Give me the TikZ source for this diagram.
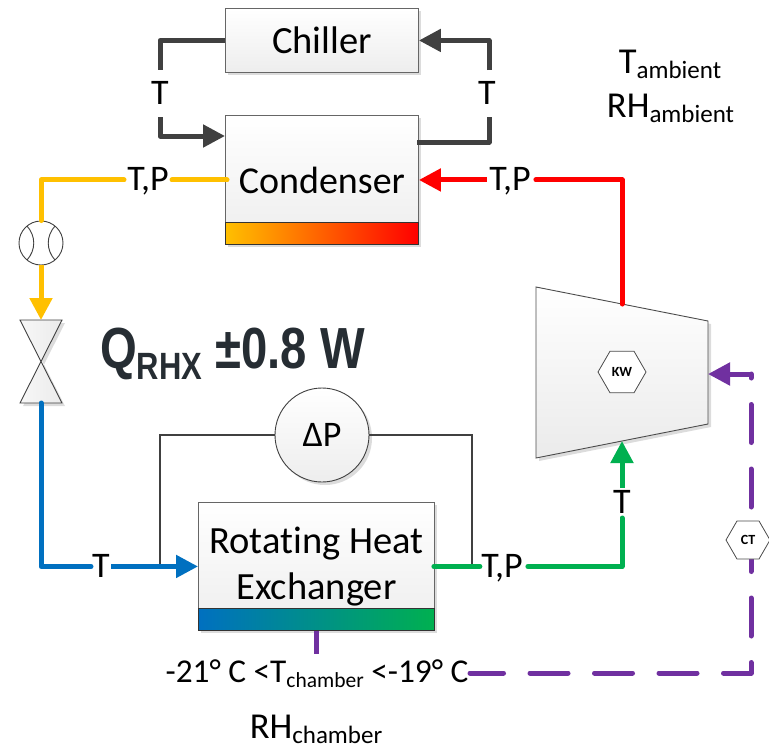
\documentclass[tikz,border=0pt]{standalone}
\usepackage{fontspec}
\setmainfont[Ligatures=NoCommon]{Carlito}
\newfontfamily\qfont[Ligatures=NoCommon]{Liberation Sans}
\usetikzlibrary{arrows.meta,shapes.geometric,shadows,calc}
\definecolor{cgray}{HTML}{404040}
\definecolor{cyellow}{HTML}{FFC000}
\definecolor{cred}{HTML}{FF0000}
\definecolor{cblue}{HTML}{0070C0}
\definecolor{cgreen}{HTML}{00B050}
\definecolor{cpurple}{HTML}{7030A0}
\definecolor{qdark}{HTML}{262D33}
\newcommand{\subt}[2]{\raisebox{-5pt}{\fontsize{#1}{#1}\selectfont #2}}
\tikzset{
  x=1pt,y=-1pt,
  softshadow/.style={drop shadow={shadow xshift=3pt,shadow yshift=-3pt,fill=black!30,opacity=0.45}},
  unitbox/.style={draw=black!60,line width=0.9pt,top color=white,bottom color=black!7,softshadow,anchor=north west,align=center,inner sep=0pt,font=\fontsize{38.5}{46}\selectfont},
  flow/.style={line width=5pt,line join=round,line cap=round},
  flowarrow/.style={flow,-{Triangle[length=22pt,width=22pt]}},
  meas/.style={font=\fontsize{36}{40}\selectfont,inner sep=0pt,anchor=base},
  note/.style={font=\fontsize{36.5}{38}\selectfont,inner sep=0pt,anchor=base},
  pipe/.style={draw=black!75,line width=1.6pt},
  hexa/.style={regular polygon,regular polygon sides=6,draw=black!70,line width=0.8pt,fill=white,inner sep=0pt,font=\fontsize{14}{14}\selectfont\bfseries},
  purpledash/.style={line width=5pt,draw=cpurple,line cap=round,line join=round,dash pattern=on 38pt off 26.5pt,dash phase=4.5pt}
}
\begin{document}
\begin{tikzpicture}
\useasboundingbox (0,0) rectangle (769,748);
% boxes
\node[unitbox,minimum width=193pt,minimum height=64pt] (chiller) at (225,8) {Chiller};
\node[unitbox,minimum width=193pt,minimum height=129pt,font=\fontsize{38}{46}\selectfont] (condenser) at (225,115) {Condenser};
\node[anchor=north west,minimum width=193pt,minimum height=22pt,inner sep=0pt,draw=black!80,line width=0.8pt,left color=cyellow,right color=cred] (condbar) at (225,222) {};
\node[unitbox,minimum width=236pt,minimum height=128pt] (rhx) at (198,502) {Rotating Heat\\Exchanger};
\node[anchor=north west,minimum width=236pt,minimum height=22pt,inner sep=0pt,draw=black!80,line width=0.8pt,left color=cblue,right color=cgreen] (rhxbar) at (198,608) {};
% compressor
\coordinate (c1) at (536,287);
\coordinate (c2) at (708,321);
\coordinate (c3) at (708,424);
\coordinate (c4) at (536,458);
\coordinate (ctop) at (622,304);
\coordinate (cbot) at (622,441);
\coordinate (cright) at (708,374);
\path[draw=black!70,line width=0.9pt,top color=white,bottom color=black!8,softshadow] (c1) -- (c2) -- (c3) -- (c4) -- cycle;
\node[hexa,minimum size=48pt] (kw) at (622,372) {KW};
% flow meter
\node[circle,draw=black!75,line width=0.9pt,fill=white,minimum size=44pt,inner sep=0pt] (meter) at (41,243) {};
\draw[draw=black!75,line width=0.9pt] (27,226) .. controls (36,236) and (36,250) .. (27,260);
\draw[draw=black!75,line width=0.9pt] (55,226) .. controls (46,236) and (46,250) .. (55,260);
% valve
\coordinate (vtop) at (41,320);
\coordinate (vbot) at (41,403);
\path[draw=black!75,line width=0.9pt,left color=black!3,right color=black!8,softshadow] (20,320) -- (62,320) -- (20,403) -- (62,403) -- cycle;
% labels
\node[meas] (tl) at (160,104) {T};
\node[meas] (tr) at (487,104) {T};
\node[meas] (tpy) at (148,190) {T,P};
\node[meas] (tpr) at (510,190) {T,P};
\node[meas] (tb) at (101,577) {T};
\node[meas] (tpg) at (502,577) {T,P};
\node[meas] (tg) at (622,513) {T};
\node[note] (tamb) at (670,73) {T\subt{25}{ambient}};
\node[note] (rhamb) at (670.5,117) {RH\subt{25}{ambient}};
\node[note,font=\fontsize{33.3}{38}\selectfont] (tch) at (317,682) {-21° C <T\subt{21.5}{chamber} <-19° C};
\node[note] (rhch) at (316,738) {RH\subt{25}{chamber}};
\node[inner sep=0pt,anchor=base,text=qdark] (q) at (232.5,368) {\scalebox{0.815}[1]{\qfont\bfseries\fontsize{58}{58}\selectfont Q\raisebox{-0.2em}{\fontsize{38}{38}\selectfont RHX} ±0.8 W}};
% pressure
\node[circle,draw=black!75,line width=0.9pt,top color=white,bottom color=black!7,softshadow,minimum size=94pt,inner sep=0pt,font=\fontsize{36}{40}\selectfont] (dp) at (322,435) {ΔP};
\coordinate (dpl) at (160,565);
\coordinate (dpr) at (472,565);
\draw[pipe] (dp.west) -| (dpl);
\draw[pipe] (dp.east) -| (dpr);
% chiller loop
\coordinate (cin) at (225,136);
\coordinate (cout) at (417,142);
\coordinate (tlc) at (160,70);
\coordinate (trc) at (489,70);
\coordinate (tld) at (160,117);
\coordinate (trd) at (489,117);
\draw[flow,cgray,line cap=butt] (chiller.west) -| (tlc);
\draw[flowarrow,cgray,line cap=butt] (tld) |- (cin);
\draw[flow,cgray,line cap=butt] (cout) -| (trd);
\draw[flowarrow,cgray,line cap=butt] (trc) |- (chiller.east);
% refrigerant
\coordinate (ya) at ($(condenser.west)+(2,0)$);
\coordinate (yb) at ($(condenser.west)+(-53,0)$);
\coordinate (yc) at ($(condenser.west)+(-101,0)$);
\draw[flow,cyellow] (ya) -- (yb);
\draw[flow,cyellow] (yc) -| (meter.north);
\draw[flowarrow,cyellow,line cap=butt] (meter.south) -- (vtop);
\coordinate (ra) at ($(condenser.east)+(117,0)$);
\coordinate (rb) at ($(condenser.east)+(68,0)$);
\draw[flow,cred] (ctop) |- (ra);
\draw[flowarrow,cred,line cap=butt] (rb) -- (condenser.east);
\coordinate (ba) at ($(rhx.west)+(-107,0)$);
\coordinate (bb) at ($(rhx.west)+(-87,0)$);
\draw[flow,cblue] (vbot) |- (ba);
\draw[flowarrow,cblue,line cap=butt] (bb) -- (rhx.west);
\coordinate (ga) at ($(rhx.east)+(-1,0)$);
\coordinate (gb) at ($(rhx.east)+(45,0)$);
\coordinate (gc) at ($(rhx.east)+(93,0)$);
\coordinate (gd) at (622,518);
\coordinate (ge) at (622,488);
\draw[flow,cgreen] (ga) -- (gb);
\draw[flow,cgreen] (gc) -| (gd);
\draw[flowarrow,cgreen,line cap=butt] (ge) -- (cbot);
% chamber temperature signal
\coordinate (pa) at (316,631);
\coordinate (pb) at (316,654);
\coordinate (pc) at (470,673);
\coordinate (pd) at (751,673);
\coordinate (pe) at (751,374);
\draw[line width=5pt,draw=cpurple] (pa) -- (pb);
\draw[purpledash] (pc) -- (pd) -- (pe);
\draw[line width=5pt,cpurple,line join=round,-{Triangle[length=22pt,width=22pt]}] (pe) -- (cright);
\node[hexa,minimum size=44pt] (ct) at (748,540) {CT};
\end{tikzpicture}
\end{document}
